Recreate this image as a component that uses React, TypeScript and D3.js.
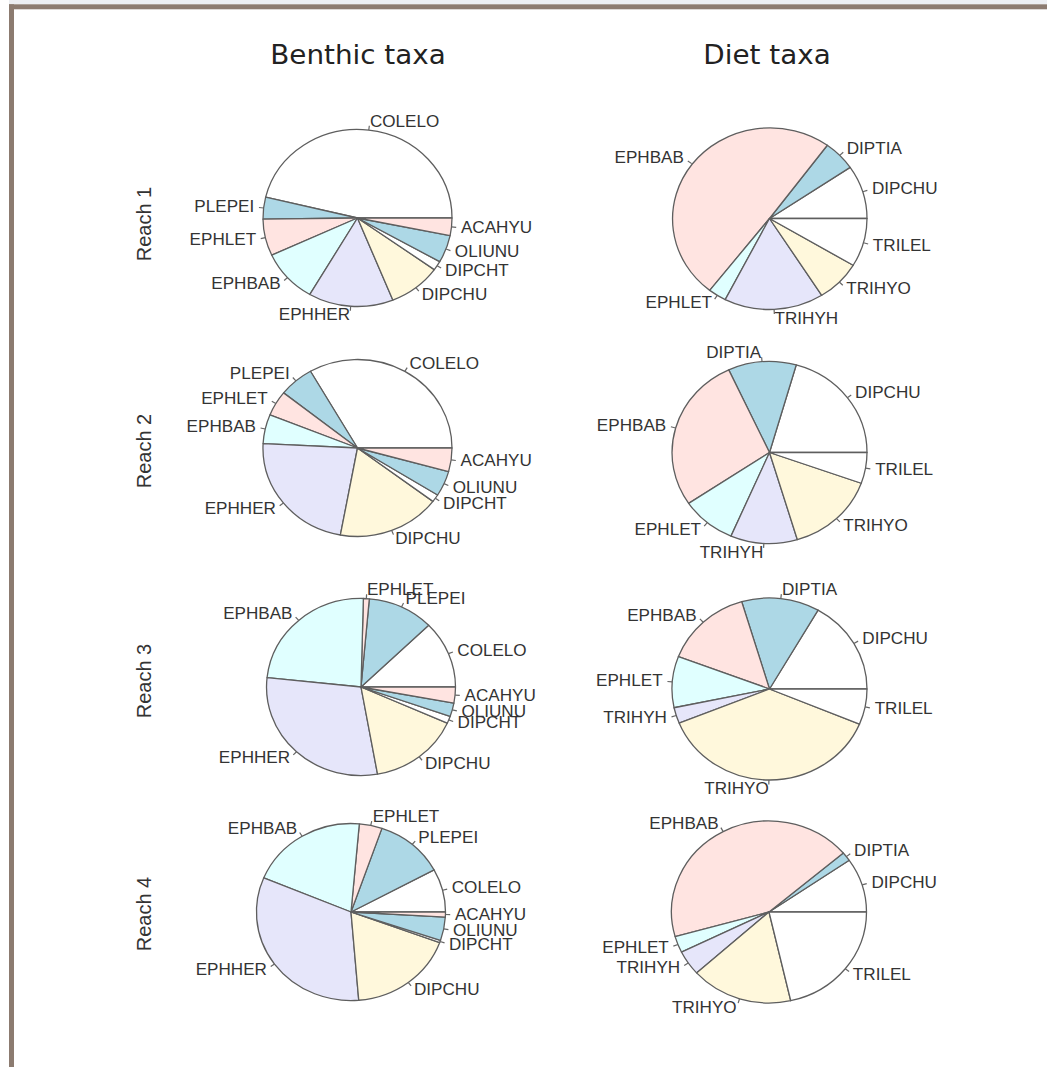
import React from "react";
import * as d3 from "d3";

// Taxon codes in plotting order (slices run counter-clockwise from 3 o'clock)
const benthicTaxa = ["COLELO", "PLEPEI", "EPHLET", "EPHBAB", "EPHHER", "DIPCHU", "DIPCHT", "OLIUNU", "ACAHYU"];
const dietTaxa = ["DIPCHU", "DIPTIA", "EPHBAB", "EPHLET", "TRIHYH", "TRIHYO", "TRILEL"];
const reachLabels = ["Reach 1", "Reach 2", "Reach 3", "Reach 4"];
const columnTitles = ["Benthic taxa", "Diet taxa"];

// Relative abundance (%) of each benthic taxon, by reach
const benthicReach1 = [46.2, 4.0, 6.7, 9.7, 14.5, 9.0, 1.7, 5.0, 3.2];
const benthicReach2 = [33.3, 6.0, 4.6, 5.3, 22.9, 17.6, 1.4, 4.6, 4.3];
const benthicReach3 = [12.3, 11.3, 1.0, 23.7, 29.5, 15.5, 1.3, 2.5, 2.9];
const benthicReach4 = [7.9, 11.8, 3.9, 20.1, 32.6, 18.1, 0.4, 4.3, 0.9];

// Relative abundance (%) of each diet taxon, by reach
const dietReach1 = [9.5, 5.4, 49.6, 3.0, 16.5, 7.4, 8.6];
const dietReach2 = [20.6, 11.3, 27.6, 9.1, 11.1, 14.9, 5.5];
const dietReach3 = [16.7, 12.9, 14.6, 9.1, 2.8, 37.6, 6.3];
const dietReach4 = [9.6, 1.6, 43.1, 2.9, 4.4, 16.9, 21.4];

// Default pie palette, recycled over the slices
const pieColours = ["#ffffff", "#add8e6", "#ffe4e1", "#e0ffff", "#e6e6fa", "#fff8dc"];

const W = 1047;
const H = 1067;
const SX = 1.07; // horizontal stretch of the whole figure

const benthicValues = [benthicReach1, benthicReach2, benthicReach3, benthicReach4];
const dietValues = [dietReach1, dietReach2, dietReach3, dietReach4];

// Panel geometry: centre and radii of each pie
const benthicCentres = [
  [357.5, 218],
  [357.5, 448],
  [361, 687],
  [351, 912],
];
const dietCentres = [
  [769.5, 218.5],
  [769.5, 452.5],
  [769.5, 689],
  [769, 912],
];
const benthicR = { rx: 94.5, ry: 88.5 };
const dietR = { rx: 97.5, ry: 91 };

const pieLayout = d3
  .pie<number>()
  .sort(null)
  .value((d) => d)
  .startAngle(Math.PI / 2)
  .endAngle(Math.PI / 2 - 2 * Math.PI);

const unitArc = d3
  .arc<d3.PieArcDatum<number>>()
  .innerRadius(0)
  .outerRadius(1);

type PieProps = {
  values: number[];
  labels: string[];
  cx: number;
  cy: number;
  rx: number;
  ry: number;
};

function Pie({ values, labels, cx, cy, rx, ry }: PieProps) {
  const arcs = pieLayout(values);
  const colour = d3.scaleOrdinal<number, string>().domain(d3.range(values.length)).range(pieColours);
  return (
    <g>
      <g transform={`translate(${cx},${cy}) scale(${rx},${ry})`}>
        {arcs.map((a, i) => (
          <path
            key={i}
            d={unitArc(a) || ""}
            fill={colour(i)}
            stroke="#5e5e5e"
            strokeWidth={1.3}
            vectorEffect="non-scaling-stroke"
            strokeLinejoin="round"
          />
        ))}
      </g>
      {arcs.map((a, i) => {
        const mid = (a.startAngle + a.endAngle) / 2;
        const ux = Math.sin(mid);
        const uy = -Math.cos(mid);
        const tx = cx + 1.1 * rx * ux;
        const ty = cy + 1.1 * ry * uy;
        return (
          <g key={"l" + i}>
            <line
              x1={cx + rx * ux}
              y1={cy + ry * uy}
              x2={cx + 1.05 * rx * ux}
              y2={cy + 1.05 * ry * uy}
              stroke="#666"
              strokeWidth={1.2}
            />
            <text
              transform={`translate(${tx},${ty}) scale(${SX},1)`}
              textAnchor={ux < 0 ? "end" : "start"}
              dominantBaseline="central"
              fontFamily="'Liberation Sans', Arial, sans-serif"
              fontSize={16}
              fill="#333"
            >
              {labels[i]}
            </text>
          </g>
        );
      })}
    </g>
  );
}

export default function App() {
  return (
    <div style={{ position: "absolute", left: 0, top: 0, width: W, height: H }}>
      <svg width={W} height={H} viewBox={`0 0 ${W} ${H}`} style={{ display: "block" }}>
        <rect x={0} y={0} width={W} height={H} fill="#ffffff" />
        {/* outer frame */}
        <rect x={9} y={0} width={W - 9} height={4.3} fill="#eceef2" />
        <rect x={9} y={4.3} width={W - 9} height={5} fill="#8c7b70" />
        <rect x={9} y={4.3} width={5} height={H - 4.3} fill="#8c7b70" />

        {columnTitles.map((t, i) => (
          <text
            key={t}
            transform={`translate(${i === 0 ? 358 : 767},64) scale(${SX},1)`}
            textAnchor="middle"
            fontFamily="'DejaVu Sans', sans-serif"
            fontSize={26}
            fill="#222"
          >
            {t}
          </text>
        ))}

        {reachLabels.map((t, i) => (
          <text
            key={t}
            transform={`translate(151,${[224, 451, 681, 914][i]}) rotate(-90)`}
            textAnchor="middle"
            fontFamily="'Liberation Sans', Arial, sans-serif"
            fontSize={20}
            fill="#333"
          >
            {t}
          </text>
        ))}

        {benthicValues.map((v, i) => (
          <Pie
            key={"b" + i}
            values={v}
            labels={benthicTaxa}
            cx={benthicCentres[i][0]}
            cy={benthicCentres[i][1]}
            rx={benthicR.rx}
            ry={benthicR.ry}
          />
        ))}
        {dietValues.map((v, i) => (
          <Pie
            key={"d" + i}
            values={v}
            labels={dietTaxa}
            cx={dietCentres[i][0]}
            cy={dietCentres[i][1]}
            rx={dietR.rx}
            ry={dietR.ry}
          />
        ))}
      </svg>
    </div>
  );
}
